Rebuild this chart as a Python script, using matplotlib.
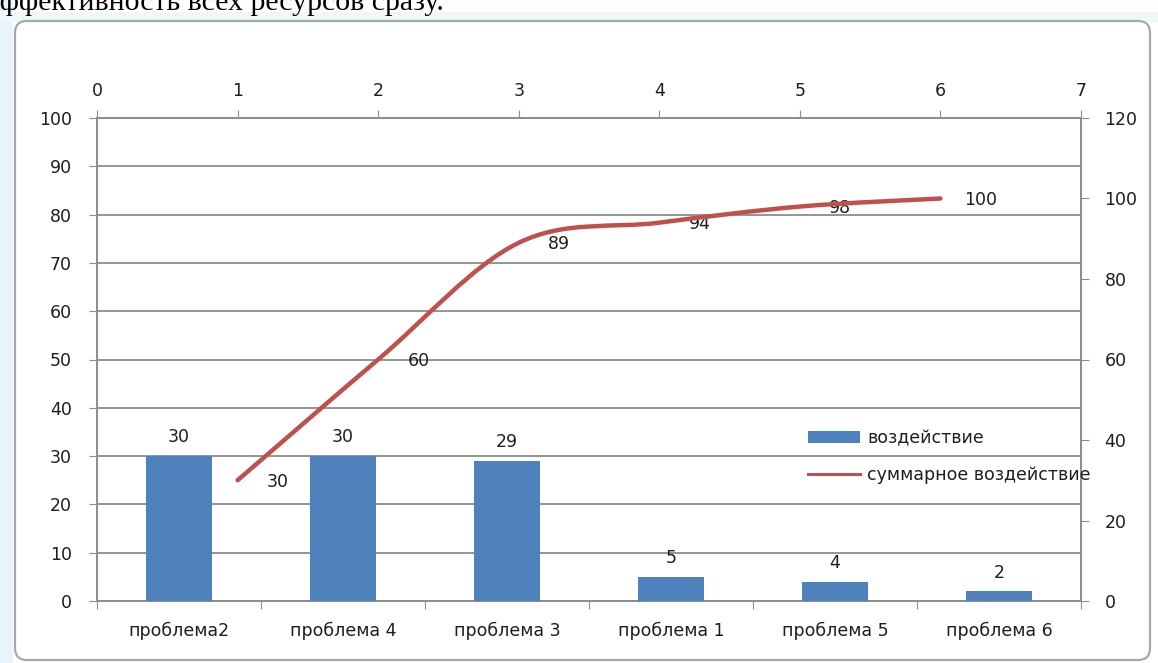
import numpy as np
import matplotlib
matplotlib.use("Agg")
import matplotlib.pyplot as plt
from matplotlib.path import Path
from matplotlib.patches import PathPatch, FancyBboxPatch, Rectangle, Patch
from matplotlib.lines import Line2D
from matplotlib.transforms import IdentityTransform

# данные диаграммы Парето
problems = ["проблема2", "проблема 4", "проблема 3", "проблема 1", "проблема 5", "проблема 6"]
impact = [30, 30, 29, 5, 4, 2]
cum_x = [1, 2, 3, 4, 5, 6]
cum_impact = [30, 60, 89, 94, 98, 100]

BLUE = "#4F81BD"
RED = "#C0504D"
GRID = "#8C8C8C"
TXT = "#1E1E1E"
FS = 12.5

plt.rcParams["font.family"] = ["DejaVu Sans"]
plt.rcParams["font.size"] = FS

fig = plt.figure(figsize=(11.58, 6.63), dpi=100)

# фон листа, рамка диаграммы и строка текста над ней
fig.patches.append(Rectangle((0, 0), 13, 663, transform=IdentityTransform(),
                             facecolor="#E6F5F9", edgecolor="none", zorder=0))
fig.patches.append(Rectangle((0, 641), 1158, 10, transform=IdentityTransform(),
                             facecolor="#EEF8FB", edgecolor="none", zorder=0))
fig.patches.append(FancyBboxPatch((15, 3), 1135, 639, transform=IdentityTransform(),
                                  boxstyle="round,pad=0,rounding_size=12",
                                  facecolor="white", edgecolor="#A8A8A8", lw=1.6, zorder=1))
fig.text(-13 / 1158, 1 - 10 / 663, "эффективность всех ресурсов сразу.",
         family="Liberation Serif", fontsize=21.5, va="baseline", ha="left", color="black")

ax = fig.add_axes([97 / 1158, 62 / 663, 984 / 1158, 483 / 663])
ax.set_zorder(2)
x = np.arange(len(problems))
ax.bar(x, impact, width=0.4, color=BLUE, zorder=3)
for xi, v in zip(x, impact):
    ax.annotate(str(v), (xi, v), xytext=(0, 7), textcoords="offset points",
                ha="center", va="bottom", color=TXT)

ax.set_xlim(-0.5, len(problems) - 0.5)
ax.set_ylim(0, 100)
ax.set_yticks(np.arange(0, 101, 10))
ax.set_xticks(np.arange(-0.5, len(problems), 1))
ax.set_xticklabels([])
ax.set_xticks(x, minor=True)
ax.set_xticklabels(problems, minor=True)
ax.tick_params(axis="x", which="major", length=6, color=GRID, direction="out")
ax.tick_params(axis="x", which="minor", length=0, pad=15, labelcolor=TXT)
ax.tick_params(axis="y", length=6, color=GRID, direction="out", pad=12, labelcolor=TXT)
ax.grid(axis="y", color=GRID, lw=1.3, zorder=1)
for s in ["top", "right"]:
    ax.spines[s].set_visible(False)
for s in ["left", "bottom"]:
    ax.spines[s].set_color(GRID)
    ax.spines[s].set_linewidth(1.4)

# накопленный итог на вспомогательных осях (верх / справа)
ax2 = fig.add_axes(ax.get_position(), frameon=True)
ax2.set_zorder(3)
ax2.patch.set_visible(False)
ax2.set_xlim(0, 7)
ax2.set_ylim(0, 120)
ax2.xaxis.tick_top()
ax2.yaxis.tick_right()
ax2.set_xticks(range(0, 8))
ax2.set_yticks(range(0, 121, 20))
ax2.tick_params(axis="x", length=6, color=GRID, direction="out", pad=7, labelcolor=TXT)
ax2.tick_params(axis="y", length=6, color=GRID, direction="out", pad=11, labelcolor=TXT)
for s in ["left", "bottom"]:
    ax2.spines[s].set_visible(False)
for s in ["top", "right"]:
    ax2.spines[s].set_color(GRID)
    ax2.spines[s].set_linewidth(1.4)

# сглаженная линия: кривые Безье через точки ряда
pts = np.column_stack([cum_x, cum_impact]).astype(float)
verts = [tuple(pts[0])]
codes = [Path.MOVETO]
n = len(pts)
for i in range(n - 1):
    p0 = pts[max(i - 1, 0)]
    p1 = pts[i]
    p2 = pts[i + 1]
    p3 = pts[min(i + 2, n - 1)]
    c1 = p1 + (p2 - p0) / 6
    c2 = p2 - (p3 - p1) / 6
    verts += [tuple(c1), tuple(c2), tuple(p2)]
    codes += [Path.CURVE4] * 3
ax2.add_patch(PathPatch(Path(verts, codes), facecolor="none", edgecolor=RED,
                        lw=3.2, capstyle="round", joinstyle="round", zorder=4))
for xv, v in zip(cum_x, cum_impact):
    ax2.annotate(str(v), (xv, v), xytext=(29, -1), textcoords="offset points",
                 ha="center", va="center", color=TXT)

handles = [Patch(facecolor=BLUE, edgecolor="none"),
           Line2D([], [], color=RED, lw=2.2)]
leg = fig.legend(handles, ["воздействие", "суммарное воздействие"],
                 loc="upper left", bbox_to_anchor=(808 / 1158, 1 - 429 / 663),
                 frameon=False, borderpad=0, borderaxespad=0,
                 handlelength=3.0, handleheight=0.65, handletextpad=0.4,
                 labelspacing=1.1, fontsize=FS)
for t in leg.get_texts():
    t.set_color(TXT)
leg.set_zorder(6)

fig.savefig("out.png", dpi=100)
